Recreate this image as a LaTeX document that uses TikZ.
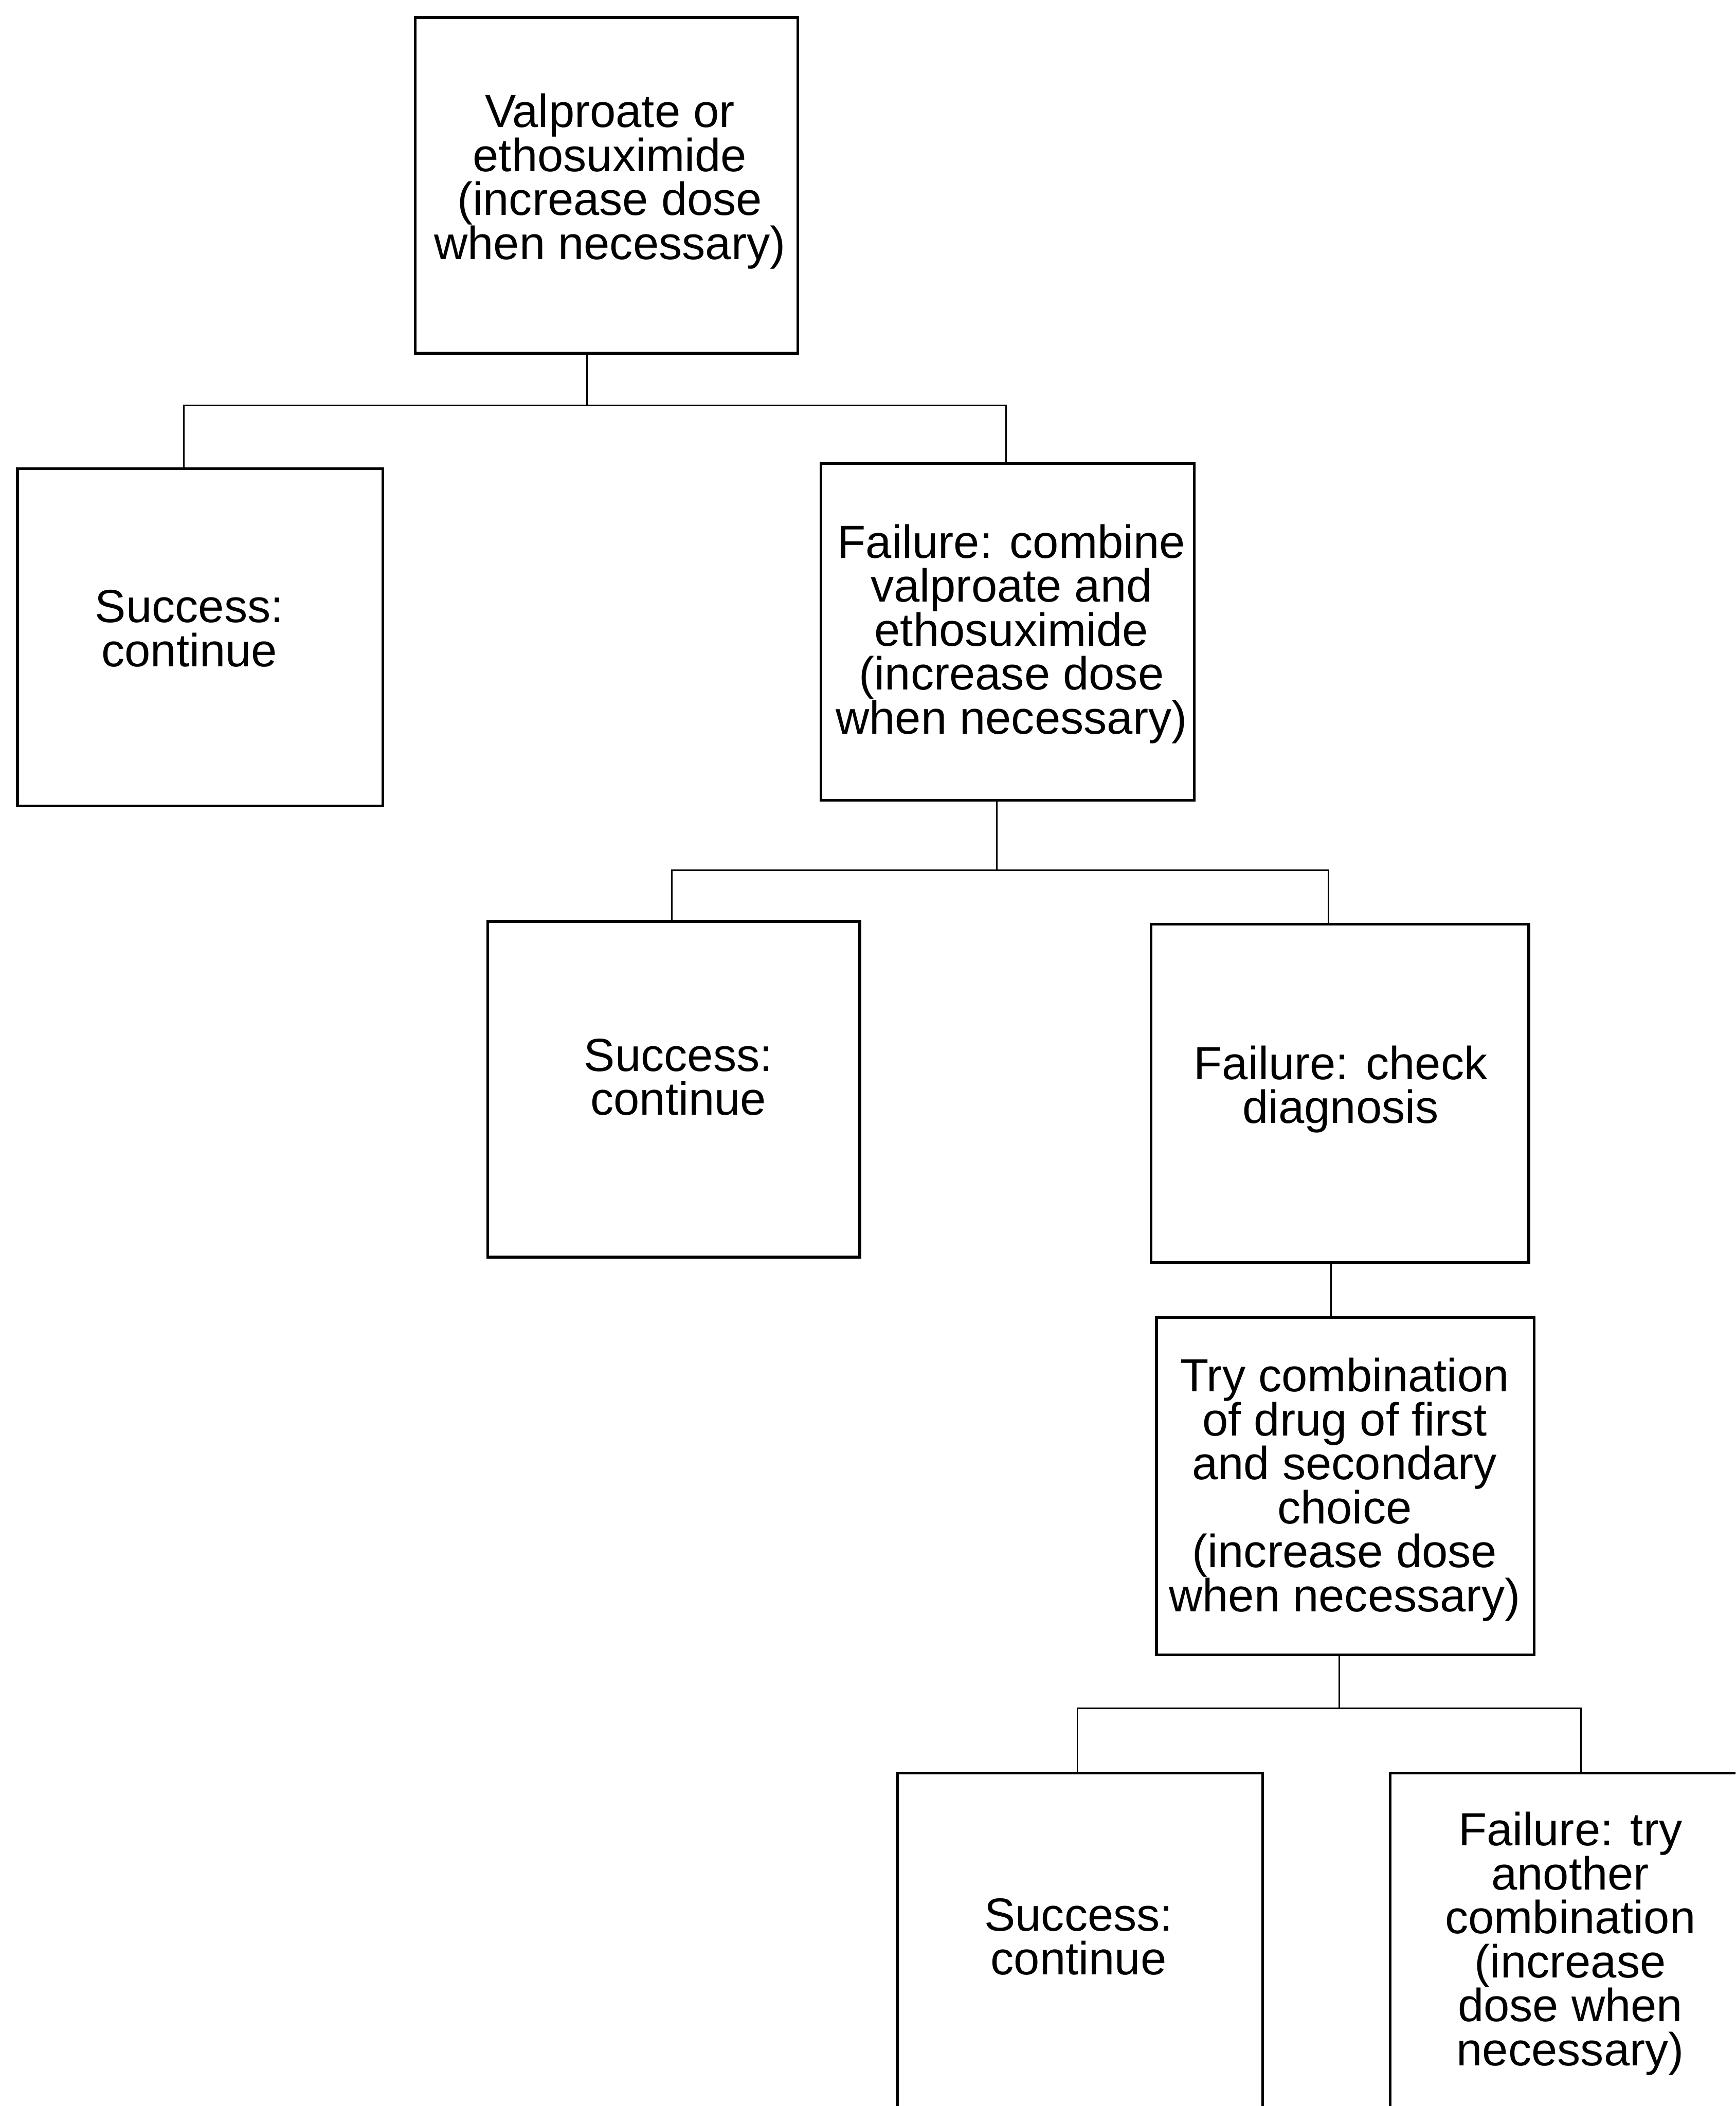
\documentclass[tikz,border=0pt]{standalone}
\usepackage{fontspec}
\setmainfont{Liberation Sans}
\begin{document}
\begin{tikzpicture}[x=0.5404pt,y=-0.5404pt,
  box/.style={draw, line width=1.1pt, inner sep=0pt, minimum width=#1},
  txt/.style={inner sep=0pt, align=center, font=\fontsize{18.7pt}{17.7pt}\selectfont},
  conn/.style={line width=0.6pt}]
\useasboundingbox (0,0) rectangle (1292,1568);
\clip (0,0) rectangle (1292,1568);
\fill[white] (0,0) rectangle (1292,1568);
% boxes
\node[box=154pt, minimum height=135.1pt] (b1) at (451.5,138) {};
\node[box=147pt, minimum height=135.6pt] (b2) at (149,474.5) {};
\node[box=150.2pt, minimum height=135.6pt] (b3) at (750,470.5) {};
\node[box=149.7pt, minimum height=135.1pt] (b4) at (501.5,811) {};
\node[box=151.9pt, minimum height=136.2pt] (b5) at (997.5,814) {};
\node[box=151.9pt, minimum height=135.6pt] (b6) at (1001.5,1106.5) {};
\node[box=147pt, minimum height=135.6pt] (b7) at (804,1445.5) {};
\node[box=147pt, minimum height=135.6pt] (b8) at (1171,1445.5) {};
% texts
\node[txt] (t1) at (454,135) {Valproate or\\ethosuximide\\(increase dose\\when necessary)};
\node[txt] (t2) at (141,468) {Success:\\continue};
\node[txt] (t3) at (753,472) {Failure: combine\\valproate and\\ethosuximide\\(increase dose\\when necessary)};
\node[txt] (t4) at (505,802) {Success:\\continue};
\node[txt] (t5) at (998,811) {Failure: check\\diagnosis};
\node[txt] (t6) at (1001,1109) {Try combination\\of drug of first\\and secondary\\choice\\(increase dose\\when necessary)};
\node[txt] (t7) at (803,1442) {Success:\\continue};
\node[txt] (t8) at (1169,1447) {Failure: try\\another\\combination\\(increase\\dose when\\necessary)};
% junctions
\coordinate (j1) at (437,302); \coordinate (j1l) at (137,302); \coordinate (j1r) at (749,302);
\coordinate (j2) at (742,648); \coordinate (j2l) at (500,648); \coordinate (j2r) at (989,648);
\coordinate (j3) at (991,960);
\coordinate (j4) at (997,1272); \coordinate (j4l) at (802,1272); \coordinate (j4r) at (1177,1272);
% connectors
\draw[conn] (b1.south -| j1) -- (j1);
\draw[conn] (b2.north -| j1l) -- (j1l) -- (j1r) -- (b3.north -| j1r);
\draw[conn] (b3.south -| j2) -- (j2);
\draw[conn] (b4.north -| j2l) -- (j2l) -- (j2r) -- (b5.north -| j2r);
\draw[conn] (b5.south -| j3) -- (b6.north -| j3);
\draw[conn] (b6.south -| j4) -- (j4);
\draw[conn] (b7.north -| j4l) -- (j4l) -- (j4r) -- (b8.north -| j4r);
\end{tikzpicture}
\end{document}
